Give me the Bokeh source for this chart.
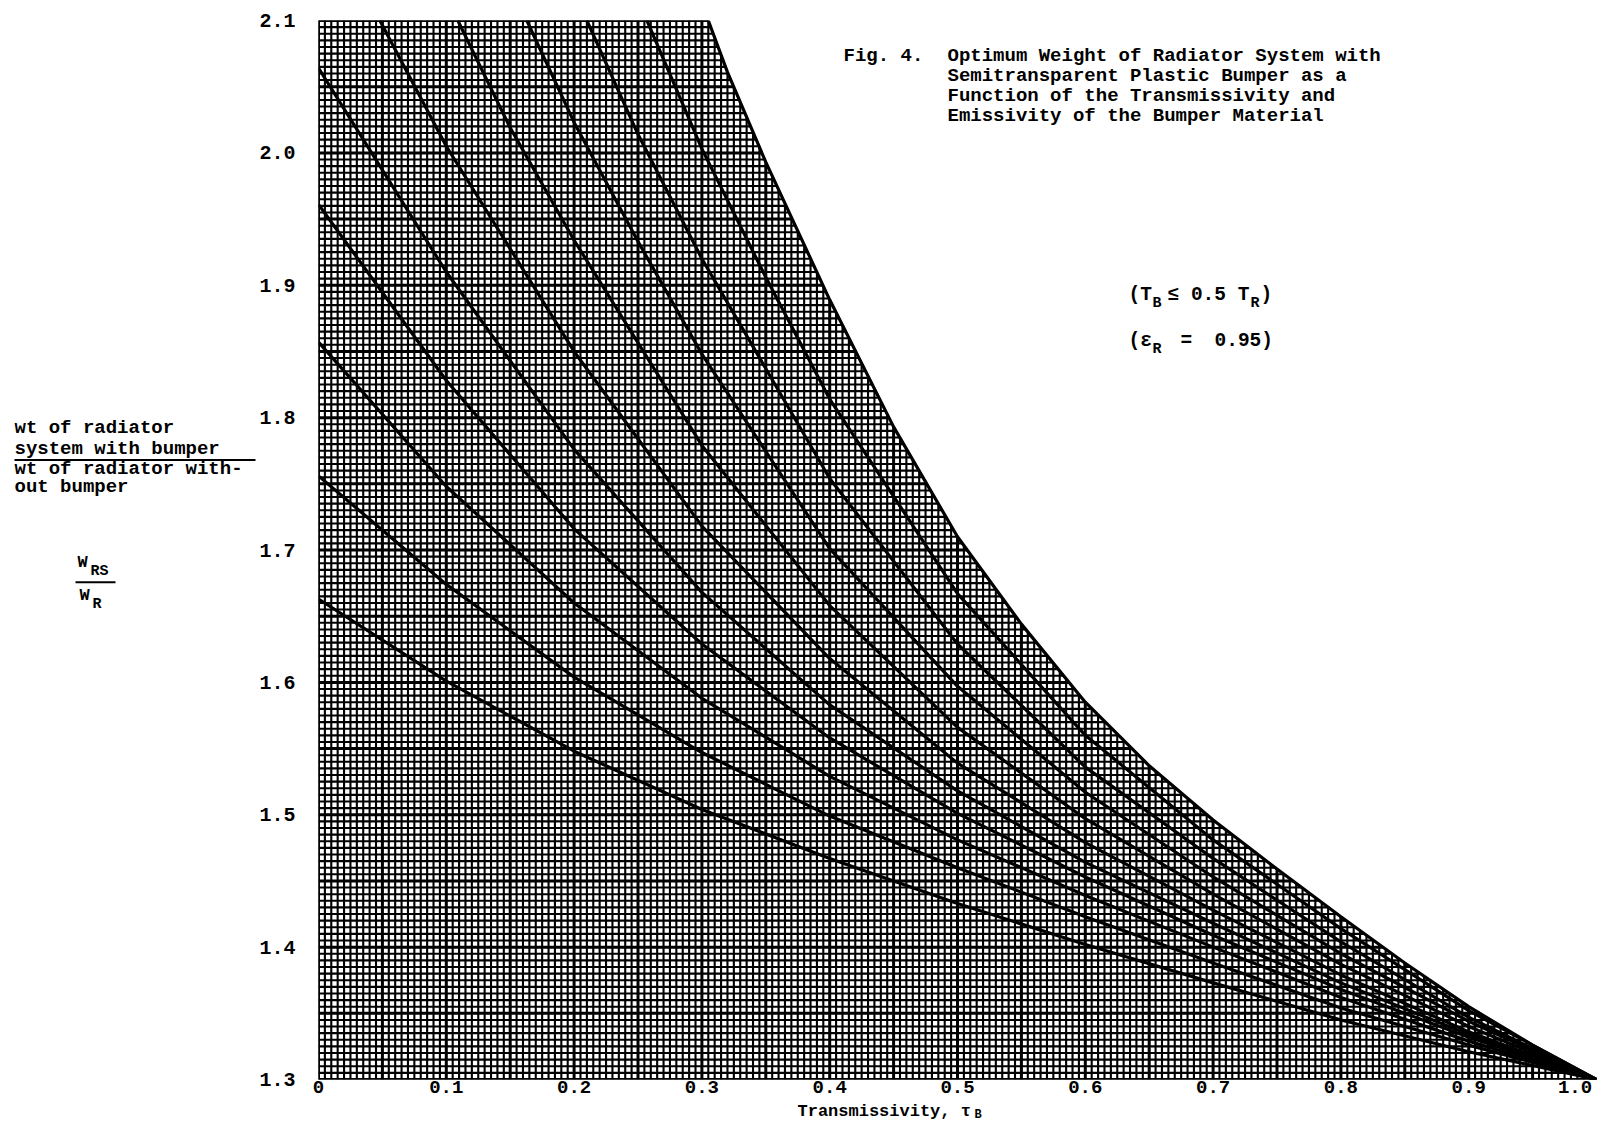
import numpy as np
from bokeh.plotting import figure
from bokeh.layouts import row, column
from bokeh.models import Range1d, FixedTicker, Label, PrintfTickFormatter, CustomJSTickFormatter
from bokeh.embed import file_html
from bokeh.resources import INLINE

# ---------------- data ----------------
x_ticks = [0.0, 0.1, 0.2, 0.3, 0.4, 0.5, 0.6, 0.7, 0.8, 0.9, 1.0]
y_ticks = [1.3, 1.4, 1.5, 1.6, 1.7, 1.8, 1.9, 2.0, 2.1]

envelope_tau = [0.305, 0.32, 0.35, 0.40, 0.45, 0.50, 0.55, 0.60, 0.65, 0.70, 0.75, 0.80, 0.85, 0.90, 0.95, 1.00]
envelope_w = [2.100, 2.061, 1.993, 1.889, 1.793, 1.710, 1.644, 1.585, 1.537, 1.496, 1.459, 1.423, 1.388, 1.355, 1.326, 1.300]

tau_grid = [0.0, 0.1, 0.2, 0.3, 0.4, 0.5, 0.6, 0.7, 0.8, 0.9, 1.0]
curve1_w = [1.663, 1.601, 1.548, 1.504, 1.467, 1.433, 1.402, 1.373, 1.345, 1.321, 1.300]
curve2_w = [1.756, 1.674, 1.604, 1.547, 1.499, 1.460, 1.423, 1.388, 1.354, 1.326, 1.300]
curve3_w = [1.857, 1.748, 1.660, 1.588, 1.529, 1.481, 1.439, 1.400, 1.362, 1.329, 1.300]
curve4_w = [1.961, 1.828, 1.716, 1.629, 1.558, 1.501, 1.453, 1.409, 1.368, 1.332, 1.300]
curve5_w = [2.064, 1.910, 1.776, 1.668, 1.583, 1.518, 1.464, 1.418, 1.373, 1.334, 1.300]

curve6_tau = [0.048, 0.1, 0.2, 0.3, 0.4, 0.5, 0.6, 0.7, 0.8, 0.9, 1.0]
curve6_w = [2.100, 2.005, 1.850, 1.718, 1.618, 1.539, 1.479, 1.428, 1.379, 1.336, 1.300]
curve7_tau = [0.109, 0.15, 0.2, 0.3, 0.4, 0.5, 0.6, 0.7, 0.8, 0.9, 1.0]
curve7_w = [2.100, 2.019, 1.934, 1.779, 1.658, 1.566, 1.497, 1.440, 1.387, 1.340, 1.300]
curve8_tau = [0.163, 0.2, 0.25, 0.3, 0.4, 0.5, 0.6, 0.7, 0.8, 0.9, 1.0]
curve8_w = [2.100, 2.023, 1.933, 1.848, 1.701, 1.597, 1.517, 1.453, 1.395, 1.344, 1.300]
curve9_tau = [0.210, 0.25, 0.3, 0.4, 0.5, 0.6, 0.7, 0.8, 0.9, 1.0]
curve9_w = [2.100, 2.014, 1.920, 1.754, 1.629, 1.536, 1.467, 1.404, 1.347, 1.300]
curve10_tau = [0.257, 0.3, 0.35, 0.4, 0.5, 0.6, 0.7, 0.8, 0.9, 1.0]
curve10_w = [2.100, 2.003, 1.906, 1.814, 1.667, 1.560, 1.481, 1.414, 1.352, 1.300]

curves = [
    (tau_grid, curve1_w), (tau_grid, curve2_w), (tau_grid, curve3_w),
    (tau_grid, curve4_w), (tau_grid, curve5_w), (curve6_tau, curve6_w),
    (curve7_tau, curve7_w), (curve8_tau, curve8_w), (curve9_tau, curve9_w),
    (curve10_tau, curve10_w),
]

# ---------------- page geometry (page pixels) ----------------
FONT = "Liberation Mono"
PAGE_W, PAGE_H = 1603, 1121          # canvas size inside the 8px body margin
X0, X1 = 326.0, 1604.0               # page x of tau = 0 and tau = 1
Y0, Y1 = 28.0, 1090.0                # page y of W = 2.1 and W = 1.3
LEFT_W = 256                         # width of the left text panel
ROW_BOTTOM = 1109                    # page y where the bottom title strip starts

main_w = PAGE_W - LEFT_W
main_h = ROW_BOTTOM - 8

p = figure(width=main_w, height=main_h, output_backend="svg", toolbar_location=None,
           x_range=Range1d(0, 1.0), y_range=Range1d(1.3, 2.1),
           min_border_left=int(X0 - 8 - LEFT_W), min_border_right=int(8 + PAGE_W - X1),
           min_border_top=int(Y0 - 8), min_border_bottom=int(ROW_BOTTOM - Y1))
p.outline_line_color = None
p.xgrid.visible = False
p.ygrid.visible = False
p.background_fill_color = "white"
p.border_fill_color = "white"

for ax in (p.xaxis, p.yaxis):
    ax.axis_line_color = None
    ax.major_tick_line_color = None
    ax.minor_tick_line_color = None
    ax.major_tick_out = 0
    ax.major_tick_in = 0
    ax.minor_tick_out = 0
    ax.major_label_text_font = FONT
    ax.major_label_text_font_style = "bold"
    ax.major_label_text_color = "black"
p.yaxis.major_label_text_font_size = "20px"
p.xaxis.major_label_text_font_size = "19px"
p.xaxis.ticker = FixedTicker(ticks=x_ticks)
p.yaxis.ticker = FixedTicker(ticks=y_ticks)
p.xaxis.formatter = CustomJSTickFormatter(
    code="if (tick == 0) { return '0'; } if (tick >= 0.999) { return '1.0\\u00a0'; } return tick.toFixed(1);")
p.yaxis.formatter = PrintfTickFormatter(format="%.1f")
p.xaxis.major_label_standoff = -3
p.yaxis.major_label_standoff = 23

# ---------------- graph paper under the envelope ----------------
et = np.array(envelope_tau)
ev = np.array(envelope_w)
step = 0.005
vx = np.round(np.arange(0, 201) * step, 4)
vtop = np.where(vx <= et[0], 2.1, np.interp(vx, et, ev))
hy = np.round(1.3 + np.arange(0, 161) * step, 4)
hright = np.interp(hy, ev[::-1], et[::-1])

minor_v = [i for i in range(len(vx)) if i % 10 != 0]
major_v = [i for i in range(len(vx)) if i % 10 == 0]
minor_h = [i for i in range(len(hy)) if i % 10 != 0]
major_h = [i for i in range(len(hy)) if i % 10 == 0]

p.multi_line(xs=[[vx[i], vx[i]] for i in minor_v], ys=[[1.3, vtop[i]] for i in minor_v],
             line_color="black", line_width=2.1)
p.multi_line(xs=[[0, hright[i]] for i in minor_h], ys=[[hy[i], hy[i]] for i in minor_h],
             line_color="black", line_width=2.1)
p.multi_line(xs=[[vx[i], vx[i]] for i in major_v], ys=[[1.3, vtop[i]] for i in major_v],
             line_color="black", line_width=3.0)
p.multi_line(xs=[[0, hright[i]] for i in major_h], ys=[[hy[i], hy[i]] for i in major_h],
             line_color="black", line_width=3.0)

p.line([0, 0], [1.3, 2.1], line_color="black", line_width=3)
p.line([0, envelope_tau[0]], [2.1, 2.1], line_color="black", line_width=2.5)
p.line([0, 1.0], [1.3, 1.3], line_color="black", line_width=3)

# ---------------- curves ----------------
for t, w in curves:
    p.line(t, w, line_color="black", line_width=3.2)
p.line(envelope_tau, envelope_w, line_color="black", line_width=3.2)

# ---------------- texts inside the main frame ----------------
def tx(px):
    return (px - X0) / (X1 - X0)

def vy(py):
    return 2.1 - (py - Y0) / (Y1 - Y0) * 0.8

def main_text(txt, px, py, size=19):
    p.add_layout(Label(x=tx(px), y=vy(py), text=txt, text_font=FONT,
                       text_font_size=f"{size}px", text_font_style="bold",
                       text_align="left", text_baseline="middle", text_color="black"))

main_text("Fig. 4.", 851, 64)
main_text("Optimum Weight of Radiator System with", 955, 64)
main_text("Semitransparent Plastic Bumper as a", 955, 84)
main_text("Function of the Transmissivity and", 955, 104)
main_text("Emissivity of the Bumper Material", 955, 124)

main_text("(T", 1136, 303, size=19.5)
main_text("B", 1160, 312, size=15)
main_text("\u2264 0.5 T", 1175, 303, size=19.5)
main_text("R", 1258, 312, size=15)
main_text(")", 1268, 303, size=19.5)

main_text("(\u03b5", 1136, 349, size=19.5)
main_text("R", 1160, 358, size=15)
main_text("=", 1188, 349, size=19.5)
main_text("0.95)", 1222, 349, size=19.5)

# ---------------- left text panel (page-pixel coordinates) ----------------
left = figure(width=LEFT_W, height=main_h, output_backend="svg", toolbar_location=None,
              x_range=Range1d(8, 8 + LEFT_W), y_range=Range1d(ROW_BOTTOM, 8),
              x_axis_type=None, y_axis_type=None, min_border=0)
left.outline_line_color = None
left.xgrid.visible = False
left.ygrid.visible = False

def panel_text(fig, txt, px, py, size=19):
    fig.add_layout(Label(x=px, y=py, text=txt, text_font=FONT,
                         text_font_size=f"{size}px", text_font_style="bold",
                         text_align="left", text_baseline="middle", text_color="black"))

panel_text(left, "wt of radiator", 22, 432)
panel_text(left, "system with bumper", 22, 454)
left.line([22, 8 + LEFT_W - 1], [465, 465], line_color="black", line_width=2)
panel_text(left, "wt of radiator with-", 22, 474)
panel_text(left, "out bumper", 22, 493)

panel_text(left, "W", 85, 572, size=17)
panel_text(left, "RS", 98, 581, size=15)
left.line([83, 123], [592, 592], line_color="black", line_width=2)
panel_text(left, "W", 87, 606, size=17)
panel_text(left, "R", 100, 615, size=15)

# ---------------- bottom strip with the axis title ----------------
bottom = figure(width=PAGE_W, height=8 + PAGE_H - ROW_BOTTOM, output_backend="svg",
                toolbar_location=None, x_range=Range1d(8, 8 + PAGE_W),
                y_range=Range1d(8 + PAGE_H, ROW_BOTTOM),
                x_axis_type=None, y_axis_type=None, min_border=0)
bottom.outline_line_color = None
bottom.xgrid.visible = False
bottom.ygrid.visible = False
panel_text(bottom, "Transmissivity, \u03c4", 805, 1119, size=17)
panel_text(bottom, "B", 982, 1122.5, size=12)

layout = column(row(left, p, spacing=0), bottom, spacing=0)

open("out.html", "w").write(file_html(layout, INLINE))
